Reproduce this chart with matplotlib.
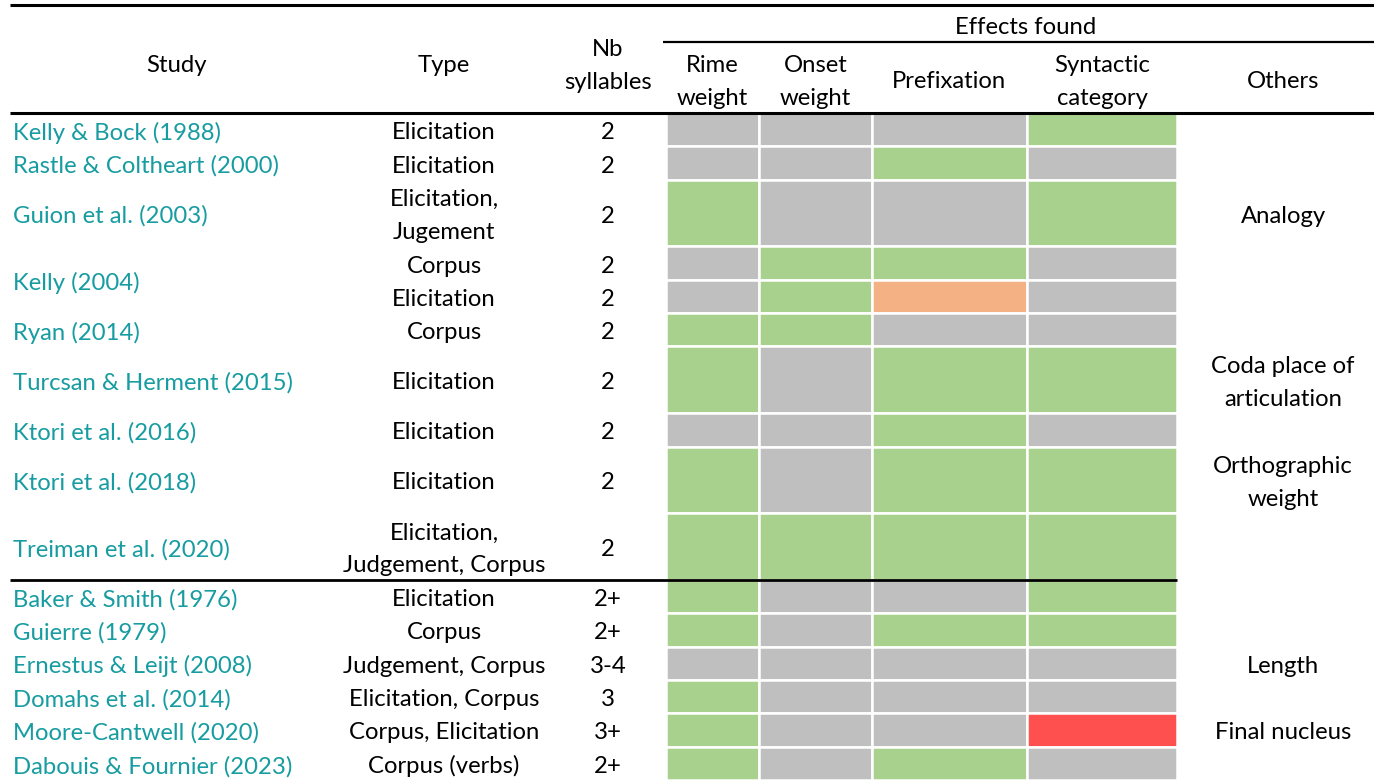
import matplotlib.pyplot as plt
from matplotlib.patches import Rectangle

plt.rcParams['font.family'] = ['Lato', 'DejaVu Sans']

# table content
studies = ['Kelly & Bock (1988)', 'Rastle & Coltheart (2000)', 'Guion et al. (2003)',
           'Kelly (2004)', None, 'Ryan (2014)', 'Turcsan & Herment (2015)',
           'Ktori et al. (2016)', 'Ktori et al. (2018)', 'Treiman et al. (2020)',
           'Baker & Smith (1976)', 'Guierre (1979)', 'Ernestus & Leijt (2008)',
           'Domahs et al. (2014)', 'Moore-Cantwell (2020)', 'Dabouis & Fournier (2023)']
types = ['Elicitation', 'Elicitation', 'Elicitation,\nJugement', 'Corpus', 'Elicitation',
         'Corpus', 'Elicitation', 'Elicitation', 'Elicitation',
         'Elicitation,\nJudgement, Corpus', 'Elicitation', 'Corpus',
         'Judgement, Corpus', 'Elicitation, Corpus', 'Corpus, Elicitation',
         'Corpus (verbs)']
syllables = ['2', '2', '2', '2', '2', '2', '2', '2', '2', '2',
             '2+', '2+', '3-4', '3', '3+', '2+']
others = ['', '', 'Analogy', '', '', '', 'Coda place of\narticulation', '',
          'Orthographic\nweight', '', '', '', 'Length', '', 'Final nucleus', '']
effect_names = ['Rime\nweight', 'Onset\nweight', 'Prefixation', 'Syntactic\ncategory']
# Y = found, N = not found, O / R = contrary findings
effects = ['NNNY', 'NNYN', 'YNNY', 'NYYN', 'NYON', 'YYNN', 'YNYY', 'NNYN',
           'YNYY', 'YYYY', 'YNNY', 'YNYY', 'NNNN', 'YNNN', 'YNNR', 'YNYN']
n_first_group = 10

colors = {'Y': '#a9d18e', 'N': '#bfbfbf', 'O': '#f4b183', 'R': '#ff5050'}
teal = '#179ca1'

# layout (pixel units)
W, H = 1374, 780
header_bottom = 113
unit = 33.35
col_edges = [666, 759, 872, 1027, 1177]
x_study, x_type, x_syl, x_others = 13, 444, 608, 1283
fs = 17.2

fig = plt.figure(figsize=(W / 100, H / 100), dpi=100)
ax = fig.add_axes([0, 0, 1, 1])
ax.set_xlim(0, W)
ax.set_ylim(H, 0)
ax.axis('off')


def put(x, yc, s, ha='center', color='black'):
    lines = s.split('\n')
    n = len(lines)
    for i, ln in enumerate(lines):
        ax.text(x, yc + 1 + (i - (n - 1) / 2) * 32.5, ln, ha=ha, va='center_baseline',
                fontsize=fs, color=color)


# row heights from number of text lines
spans = [max(t.count('\n'), o.count('\n')) + 1 for t, o in zip(types, others)]
tops = []
y = header_bottom
for s in spans:
    tops.append(y)
    y += s * unit

for i in range(len(effects)):
    top, h = tops[i], spans[i] * unit
    yc = top + h / 2
    for j, code in enumerate(effects[i]):
        ax.add_patch(Rectangle((col_edges[j], top), col_edges[j + 1] - col_edges[j], h,
                               facecolor=colors[code], edgecolor='white', lw=1.8))
    put(x_type, yc, types[i])
    put(x_syl, yc, syllables[i])
    if others[i]:
        put(x_others, yc, others[i])
    if studies[i] is not None:
        # a study may cover the next row when that row has no name
        h_name = h
        if i + 1 < len(studies) and studies[i + 1] is None:
            h_name += spans[i + 1] * unit
        put(x_study, top + h_name / 2, studies[i], ha='left', color=teal)

# header
put(176, 62, 'Study')
put(x_type, 62, 'Type')
put(x_syl, 63, 'Nb\nsyllables')
for j, name in enumerate(effect_names):
    put((col_edges[j] + col_edges[j + 1]) / 2, 79, name)
put(x_others, 79, 'Others')
put(1026, 25, 'Effects found')

# rules
ax.plot([10, W], [5, 5], color='black', lw=2.2, solid_capstyle='butt')
ax.plot([663, W], [42, 42], color='black', lw=1.6, solid_capstyle='butt')
ax.plot([10, W], [header_bottom, header_bottom], color='black', lw=2.2, solid_capstyle='butt')
y_sep = tops[n_first_group]
ax.plot([10, col_edges[-1]], [y_sep, y_sep], color='black', lw=2, solid_capstyle='butt')

fig.savefig('out.png', dpi=100)
